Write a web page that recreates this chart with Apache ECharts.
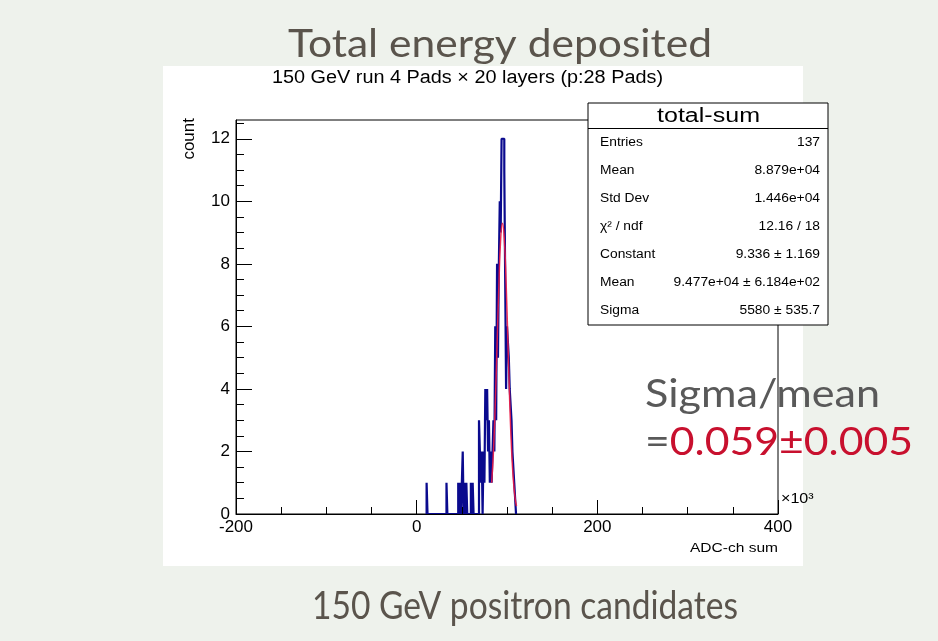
<!DOCTYPE html>
<html><head><meta charset="utf-8">
<script src="https://cdn.jsdelivr.net/npm/echarts@6/dist/echarts.min.js"></script>
<style>html,body{margin:0;padding:0;background:#eef2ec;} #c{width:938px;height:641px;}</style>
</head><body><div id="c"></div>
<script>
// Histogram (x in units of 10^3 ADC-ch, bin lower edges, width 1)
const binWidth = 1;
const binEdges = [11, 33, 46, 48, 50, 51, 53, 55, 60, 62,
  69, 70, 71, 72, 74, 75,
  76, 77, 78, 79, 80, 81, 82, 83, 84,
  85, 86, 87, 88, 89, 90, 91, 92, 93, 94, 95, 96, 97, 98, 99, 100, 101, 102, 103, 104, 105, 106, 107, 108, 109];
const binCounts = [1, 1, 1, 1, 1, 2, 1, 1, 1, 1,
  3, 2, 1, 2, 2, 1,
  4, 3, 4, 2, 3, 1, 2, 1, 2,
  3, 2, 6, 3, 8, 5, 8, 10, 9, 12, 12, 12, 11, 11, 4, 6, 6, 5, 4, 4, 3, 2, 2, 1, 1];
// Gaussian fit curve
const fitX = [83, 85, 87, 89, 91, 93, 95, 97, 99, 101, 103, 105, 107, 109, 110.5];
const fitY = [1.0, 2.0, 3.5, 5.4, 7.3, 8.8, 9.3, 8.8, 7.4, 5.5, 3.6, 2.1, 1.1, 0.5, 0.25];
// Axes
const xMin = -200, xMax = 400, xInterval = 200;
const yMin = 0, yMax = 12.6;
const yTicks = [0, 2, 4, 6, 8, 10, 12];
const yMinorTicks = [0.5, 1, 1.5, 2.5, 3, 3.5, 4.5, 5, 5.5, 6.5, 7, 7.5, 8.5, 9, 9.5, 10.5, 11, 11.5, 12.5];
// Texts
const slideTitle = 'Total energy deposited';
const plotTitle = '150 GeV run 4 Pads × 20 layers (p:28 Pads)';
const slideFooter = '150 GeV positron candidates';
const xName = 'ADC-ch sum';
const xExp = '×10³';
const yName = 'count';
const statsTitle = 'total-sum';
const statsLabels = ['Entries', 'Mean', 'Std Dev', 'χ² / ndf', 'Constant', 'Mean', 'Sigma'];
const statsValues = ['137', '8.879e+04', '1.446e+04', '12.16 / 18', '9.336 ± 1.169', '9.477e+04 ± 6.184e+02', '5580 ± 535.7'];
const noteLine1 = 'Sigma/mean';
const noteEq = '=';
const noteValue = '0.059±0.005';

// build step outline of histogram
const histData = [];
for (let i = 0; i < binEdges.length; i++) {
  const e = binEdges[i];
  if (i === 0 || binEdges[i - 1] + binWidth < e) histData.push([e, 0]);
  histData.push([e, binCounts[i]]);
  if (i === binEdges.length - 1 || binEdges[i + 1] > e + binWidth) histData.push([e + binWidth, 0]);
}
const fitData = fitX.map((x, i) => [x, fitY[i]]);

const HF = '"Liberation Sans", Arial, sans-serif';
const SF = 'Lato, "Open Sans", sans-serif';
const HSTRETCH = 1.15;

const mctx = document.createElement('canvas').getContext('2d');
function measure(text, font) { mctx.font = font; return mctx.measureText(text).width; }
// text stretched horizontally to span [left, right]
function spanText(text, font, left, right, y, fill, extra) {
  const w = measure(text, font);
  return Object.assign({ type: 'text', x: left, y: y, scaleX: (right - left) / w,
    style: { text: text, font: font, fill: fill, align: 'left', verticalAlign: 'middle' } }, extra || {});
}
function rootText(text, size, x, y, align, z) {
  return { type: 'text', x: x, y: y, z: z || 0, scaleX: HSTRETCH,
    style: { text: text, font: size + 'px ' + HF, fill: '#000', align: align, verticalAlign: 'middle' } };
}

const noteFont = '38px ' + SF;
const noteW = measure(noteEq + noteValue, noteFont);

const graphics = [
  { type: 'rect', z: -10, shape: { x: 163, y: 66, width: 640, height: 500 }, style: { fill: '#ffffff' } },
  spanText(slideTitle, '38px ' + SF, 288, 712, 45, '#5a544c'),
  spanText(plotTitle, '18px ' + HF, 272, 663, 78, '#000'),
  spanText(slideFooter, '38px ' + SF, 312, 738, 607, '#5a544c'),
  rootText(xName, 13.5, 778, 548, 'right'),
  rootText(xExp, 14, 781, 499, 'left'),
  { type: 'text', x: 189, y: 118, rotation: Math.PI / 2, style: { text: yName, font: '17px ' + HF, fill: '#000', align: 'right', verticalAlign: 'middle' } },
  spanText(noteLine1, noteFont, 645, 880, 395, '#595959', { z: 1 }),
  { type: 'text', x: 645, y: 443, z: 1, scaleX: (913 - 645) / noteW,
    style: { text: '{g|' + noteEq + '}{r|' + noteValue + '}', font: noteFont, align: 'left', verticalAlign: 'middle',
      rich: { g: { fill: '#595959', font: noteFont }, r: { fill: '#c8102e', font: noteFont } } } },
  { type: 'rect', z: 20, shape: { x: 588, y: 103, width: 240, height: 222 }, style: { fill: '#fff', stroke: '#000', lineWidth: 1 } },
  { type: 'line', z: 21, shape: { x1: 588, y1: 128.5, x2: 828, y2: 128.5 }, style: { stroke: '#000', lineWidth: 1 } },
  spanText(statsTitle, '20px ' + HF, 657, 760, 116, '#000', { z: 21 })
];
statsLabels.forEach((t, i) => {
  graphics.push(rootText(t, 12, 600, 143 + i * 28, 'left', 21));
  graphics.push(rootText(statsValues[i], 12, 820, 143 + i * 28, 'right', 21));
});

const chart = echarts.init(document.getElementById('c'), null, { renderer: 'canvas' });
chart.setOption({
  backgroundColor: '#eef2ec',
  animation: false,
  grid: { left: 236, right: 160, top: 120, bottom: 127, show: true, borderColor: '#000', borderWidth: 1, backgroundColor: 'transparent' },
  xAxis: {
    type: 'value', min: xMin, max: xMax, interval: xInterval, position: 'bottom', z: 10,
    axisLine: { show: true, onZero: false, lineStyle: { color: '#000', width: 1 } },
    axisTick: { show: true, inside: true, length: 14, lineStyle: { color: '#000', width: 1 } },
    minorTick: { show: true, splitNumber: 4, length: 7, lineStyle: { color: '#000', width: 1 } },
    splitLine: { show: false },
    axisLabel: { color: '#000', fontFamily: HF, fontSize: 17, margin: 5 }
  },
  yAxis: [{
    type: 'value', min: yMin, max: yMax, position: 'left', z: 10,
    axisLine: { show: true, onZero: false, lineStyle: { color: '#000', width: 1 } },
    axisTick: { show: true, inside: true, length: 16, customValues: yTicks, lineStyle: { color: '#000', width: 1 } },
    axisLabel: { color: '#000', fontFamily: HF, fontSize: 17, margin: 6, customValues: yTicks },
    splitLine: { show: false }
  }, {
    type: 'value', min: yMin, max: yMax, position: 'left', z: 10,
    axisLine: { show: false, onZero: false },
    axisTick: { show: true, inside: true, length: 8, customValues: yMinorTicks, lineStyle: { color: '#000', width: 1 } },
    axisLabel: { show: false },
    splitLine: { show: false }
  }],
  series: [{
    type: 'line', data: histData, step: 'end', showSymbol: false, symbol: 'none', z: 3,
    lineStyle: { color: '#0a0a8e', width: 2.2 }, clip: true
  }, {
    type: 'line', data: fitData, smooth: true, showSymbol: false, symbol: 'none', z: 4,
    lineStyle: { color: '#ee1c45', width: 1.5, opacity: 0.9 }
  }],
  graphic: graphics
});
</script></body></html>
